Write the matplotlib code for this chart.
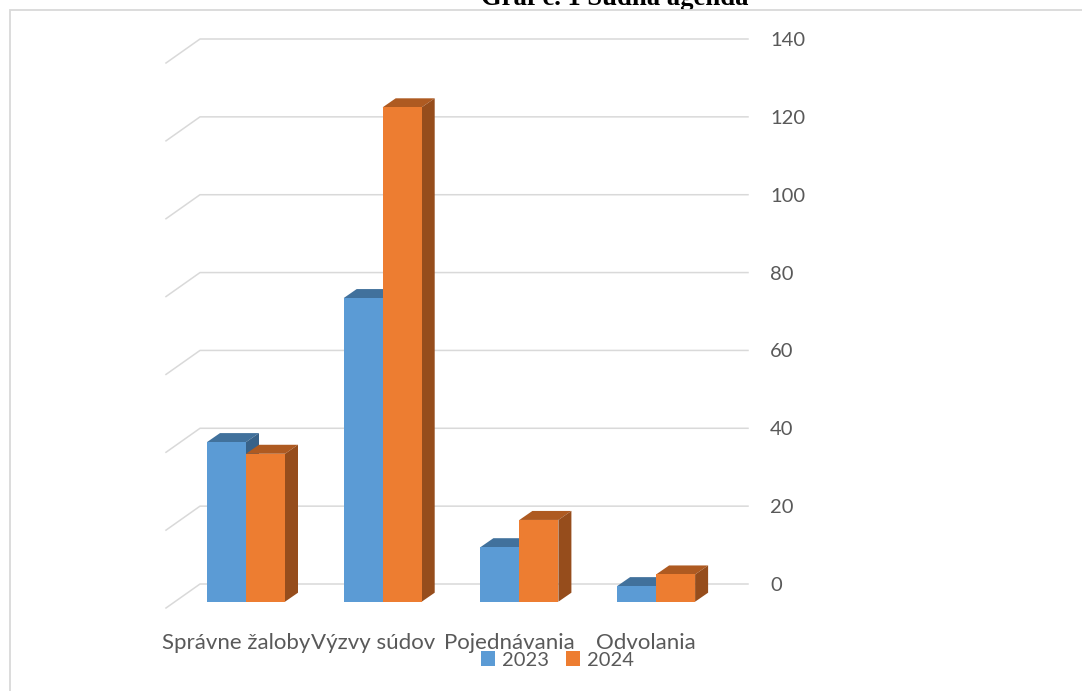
import numpy as np
import matplotlib
matplotlib.use("Agg")
import matplotlib.pyplot as plt
from matplotlib.patches import Rectangle

kategorie = ["Správne žaloby", "Výzvy súdov", "Pojednávania", "Odvolania"]
roky = ["2023", "2024"]
hodnoty_2023 = [41, 78, 14, 4]
hodnoty_2024 = [38, 127, 21, 7]
y_ticks = [0, 20, 40, 60, 80, 100, 120, 140]

W, H = 1082, 691
plt.rcParams["font.family"] = ["Lato", "DejaVu Sans"]

fig = plt.figure(figsize=(W / 100, H / 100), dpi=100)

# title is cut by the chart box, like in the document
fig.text(615 / W, 1 - 5 / H, "Graf č. 1 Súdna agenda", family="Liberation Serif",
         fontweight="bold", fontsize=19.2, ha="center", va="baseline", zorder=1)
# only top and left edge of the box are inside the picture
fig.patches.append(Rectangle((9.5 / W, -0.1), 1.1, 1.1 - 10 / H, transform=fig.transFigure,
                             facecolor="white", edgecolor="#D9D9D9", linewidth=1.3, zorder=2))

# axes = back wall of the 3D chart, 0 at y=584 px, 140 at y=39 px
ax = fig.add_axes([200 / W, 1 - 584 / H, 548 / W, 545 / H], zorder=3)
ax.patch.set_alpha(0)
krok = 136.7
ax.set_xlim((200 - 246) / krok, (748 - 246) / krok)
ax.set_ylim(0, 140)
px_y = 140 / 545
px_x = 1 / krok

for s in ax.spines.values():
    s.set_visible(False)

# walls
for t in y_ticks:
    ax.plot([ax.get_xlim()[0] - 34 * px_x, ax.get_xlim()[0], ax.get_xlim()[1]],
            [t - 24 * px_y, t, t], color="#D9D9D9", lw=1.1, clip_on=False, zorder=1)

# bars
sirka = 39 / krok
dno = -17.7 * px_y
hl_x = 13 * px_x
hl_y = 9 * px_y
x = np.arange(len(kategorie))
serie = [
    (hodnoty_2023, -sirka, "#5B9BD5", "#41719C", "#386289", roky[0]),
    (hodnoty_2024, 0, "#ED7D31", "#AE5A21", "#964D1C", roky[1]),
]
for i in x:
    for hodnoty, pomak, boja, vrh, bok, rok in serie:
        x0 = i + pomak
        x1 = x0 + sirka
        top = dno + hodnoty[i]
        ax.fill([x0, x0 + hl_x, x1 + hl_x, x1], [top, top + hl_y, top + hl_y, top],
                color=vrh, lw=0, clip_on=False, zorder=3)
        ax.fill([x1, x1 + hl_x, x1 + hl_x, x1], [dno, dno + hl_y, top + hl_y, top],
                color=bok, lw=0, clip_on=False, zorder=3)
        ax.bar(x0, hodnoty[i], sirka, bottom=dno, align="edge", color=boja,
               clip_on=False, zorder=3, label=rok if i == 0 else None)

ax.yaxis.tick_right()
ax.set_yticks(y_ticks)
ax.set_xticks(x - 10 * px_x)
ax.set_xticklabels(kategorie)
ax.tick_params(axis="y", length=0, pad=16, labelsize=14.5, labelcolor="#595959")
ax.tick_params(axis="x", length=0, pad=35, labelsize=16, labelcolor="#595959")

ax.legend(loc="center", bbox_to_anchor=(557.5 / W, 1 - 660 / H), bbox_transform=fig.transFigure,
          ncol=2, frameon=False, fontsize=14.5, labelcolor="#595959", handlelength=0.7,
          handleheight=0.7, handletextpad=0.35, columnspacing=0.85, borderpad=0, borderaxespad=0)

fig.savefig("out.png", dpi=100)
